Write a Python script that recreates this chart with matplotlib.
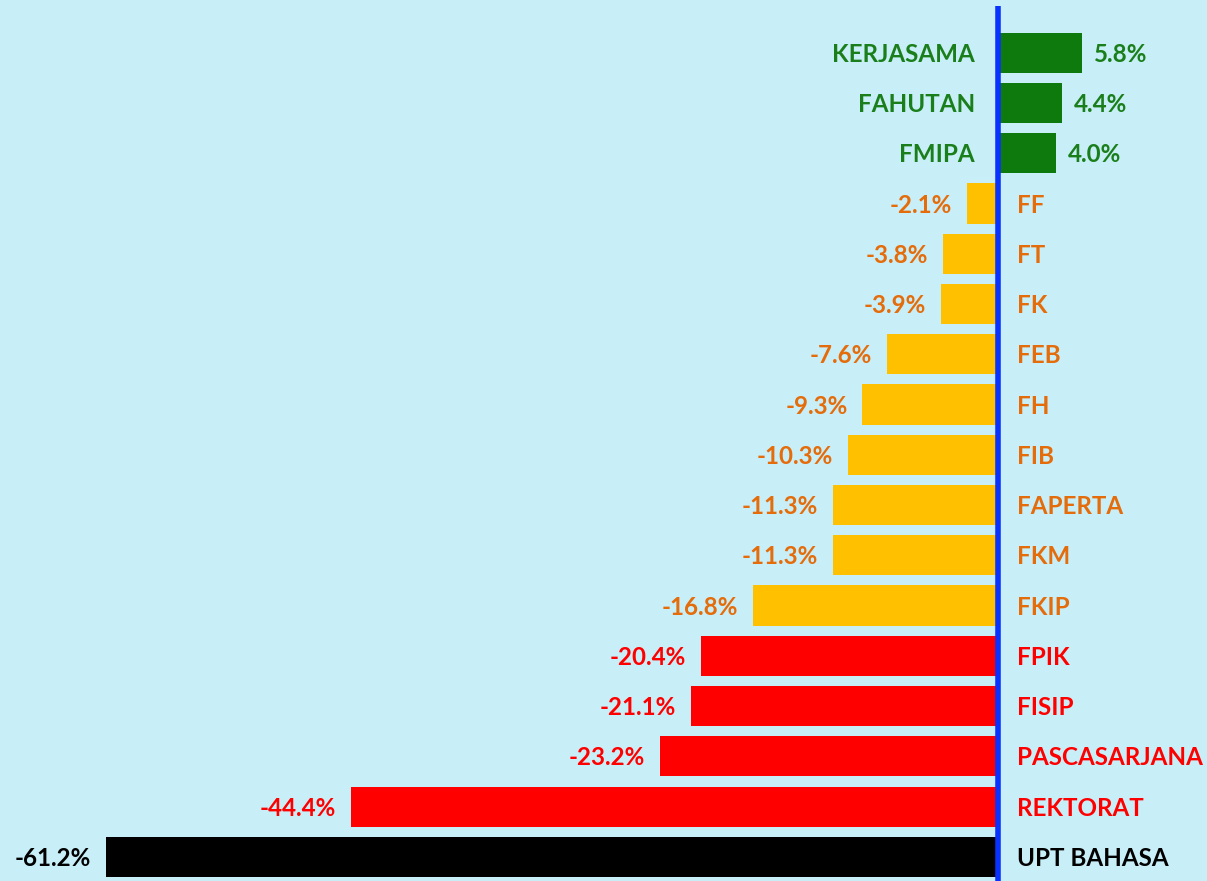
import matplotlib.pyplot as plt
import numpy as np

units = ['KERJASAMA', 'FAHUTAN', 'FMIPA', 'FF', 'FT', 'FK', 'FEB', 'FH', 'FIB',
         'FAPERTA', 'FKM', 'FKIP', 'FPIK', 'FISIP', 'PASCASARJANA', 'REKTORAT',
         'UPT BAHASA']
change = [5.8, 4.4, 4.0, -2.1, -3.8, -3.9, -7.6, -9.3, -10.3, -11.3, -11.3,
          -16.8, -20.4, -21.1, -23.2, -44.4, -61.2]
group = ['up', 'up', 'up', 'mid', 'mid', 'mid', 'mid', 'mid', 'mid', 'mid',
         'mid', 'mid', 'low', 'low', 'low', 'low', 'worst']

bar_col = {'up': '#0E7A0E', 'mid': '#FFC000', 'low': '#FF0000', 'worst': '#000000'}
txt_col = {'up': '#1A7F1A', 'mid': '#E46C0A', 'low': '#FF0000', 'worst': '#000000'}

plt.rcParams['font.family'] = ['Lato', 'DejaVu Sans']

fig = plt.figure(figsize=(12.07, 8.81), dpi=100)
fig.patch.set_facecolor('#C8EEF8')
ax = fig.add_axes([0, 0, 1, 1])
ax.set_facecolor('#C8EEF8')

y = np.arange(len(units))
ax.barh(y, change, height=0.8, color=[bar_col[g] for g in group])

ax.set_xlim(-68.5, 14.35)
ax.set_ylim(16.48, -1.05)
ax.plot([0, 0], [-0.93, 16.48], color='#0A32FF', lw=4, solid_capstyle='butt', zorder=3)

px = 1 / 14.56  # data units per pixel
dy = 0.03  # labels sit a touch below bar centre
fs = 17.4
for yi, name, v, g in zip(y, units, change, group):
    c = txt_col[g]
    if v >= 0:
        ax.text(-23 * px, yi + dy, name, ha='right', va='center', color=c,
                fontsize=fs, fontweight='bold')
        ax.text(v + 12 * px, yi + dy, f'{v:.1f}%', ha='left', va='center', color=c,
                fontsize=fs, fontweight='bold')
    else:
        ax.text(19 * px, yi + dy, name, ha='left', va='center', color=c,
                fontsize=fs, fontweight='bold')
        ax.text(v - 15 * px, yi + dy, f'{v:.1f}%', ha='right', va='center', color=c,
                fontsize=fs, fontweight='bold')

ax.axis('off')
fig.savefig('out.png', dpi=100, facecolor=fig.get_facecolor())
